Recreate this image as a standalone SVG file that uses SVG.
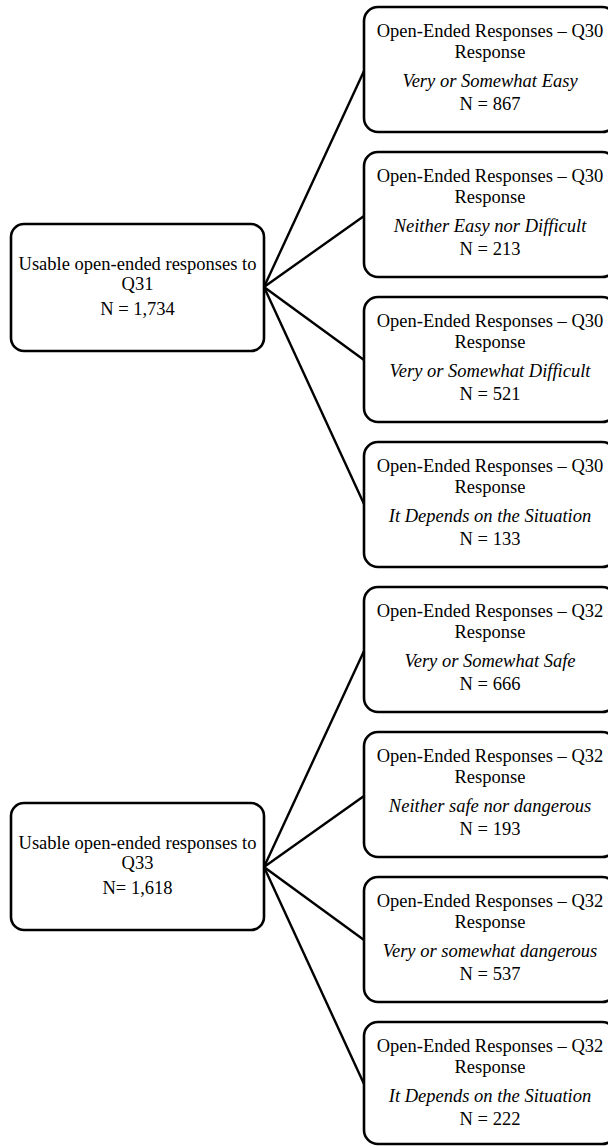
<svg xmlns="http://www.w3.org/2000/svg" width="608" height="1146" viewBox="0 0 608 1146">
  <style>
    .box { fill: #ffffff; stroke: #000000; stroke-width: 2.6; }
    .link { stroke: #000000; stroke-width: 2.4; fill: none; }
    text { font-family: "Liberation Serif", "Times New Roman", serif; font-size: 18.5px; fill: #000000; text-anchor: middle; }
    .it { font-style: italic; }
  </style>
  <rect width="608" height="1146" fill="#ffffff"/>

  <!-- connectors: each source fans out to its four outcome boxes -->
  <g id="connectors">
    <line class="link" x1="264" y1="287" x2="364" y2="71"/>
    <line class="link" x1="264" y1="287" x2="364" y2="216"/>
    <line class="link" x1="264" y1="287" x2="364" y2="360"/>
    <line class="link" x1="264" y1="287" x2="364" y2="504"/>
    <line class="link" x1="264" y1="867" x2="364" y2="651"/>
    <line class="link" x1="264" y1="867" x2="364" y2="796"/>
    <line class="link" x1="264" y1="867" x2="364" y2="940"/>
    <line class="link" x1="264" y1="867" x2="364" y2="1084"/>
  </g>

  <!-- source boxes -->
  <g id="src-q31">
    <rect class="box" x="11" y="224" width="253" height="127" rx="13"/>
    <text x="137.5" y="270">Usable open-ended responses to</text>
    <text x="137.5" y="290">Q31</text>
    <text x="137.5" y="315">N = 1,734</text>
  </g>
  <g id="src-q33">
    <rect class="box" x="11" y="803" width="253" height="127" rx="13"/>
    <text x="137.5" y="849">Usable open-ended responses to</text>
    <text x="137.5" y="869">Q33</text>
    <text x="137.5" y="894">N= 1,618</text>
  </g>

  <!-- outcome boxes, Q30 -->
  <g id="q30-easy">
    <rect class="box" x="364" y="7" width="252" height="125" rx="14"/>
    <text x="490" y="37">Open-Ended Responses – Q30</text>
    <text x="490" y="58">Response</text>
    <text class="it" x="490" y="87">Very or Somewhat Easy</text>
    <text x="490" y="110">N = 867</text>
  </g>
  <g id="q30-neither">
    <rect class="box" x="364" y="152" width="252" height="125" rx="14"/>
    <text x="490" y="182">Open-Ended Responses – Q30</text>
    <text x="490" y="203">Response</text>
    <text class="it" x="490" y="232">Neither Easy nor Difficult</text>
    <text x="490" y="255">N = 213</text>
  </g>
  <g id="q30-difficult">
    <rect class="box" x="364" y="297" width="252" height="125" rx="14"/>
    <text x="490" y="327">Open-Ended Responses – Q30</text>
    <text x="490" y="348">Response</text>
    <text class="it" x="490" y="377">Very or Somewhat Difficult</text>
    <text x="490" y="400">N = 521</text>
  </g>
  <g id="q30-depends">
    <rect class="box" x="364" y="442" width="252" height="125" rx="14"/>
    <text x="490" y="472">Open-Ended Responses – Q30</text>
    <text x="490" y="493">Response</text>
    <text class="it" x="490" y="522">It Depends on the Situation</text>
    <text x="490" y="545">N = 133</text>
  </g>

  <!-- outcome boxes, Q32 -->
  <g id="q32-safe">
    <rect class="box" x="364" y="587" width="252" height="125" rx="14"/>
    <text x="490" y="617">Open-Ended Responses – Q32</text>
    <text x="490" y="638">Response</text>
    <text class="it" x="490" y="667">Very or Somewhat Safe</text>
    <text x="490" y="690">N = 666</text>
  </g>
  <g id="q32-neither">
    <rect class="box" x="364" y="732" width="252" height="125" rx="14"/>
    <text x="490" y="762">Open-Ended Responses – Q32</text>
    <text x="490" y="783">Response</text>
    <text class="it" x="490" y="812">Neither safe nor dangerous</text>
    <text x="490" y="835">N = 193</text>
  </g>
  <g id="q32-dangerous">
    <rect class="box" x="364" y="877" width="252" height="125" rx="14"/>
    <text x="490" y="907">Open-Ended Responses – Q32</text>
    <text x="490" y="928">Response</text>
    <text class="it" x="490" y="957">Very or somewhat dangerous</text>
    <text x="490" y="980">N = 537</text>
  </g>
  <g id="q32-depends">
    <rect class="box" x="364" y="1022" width="252" height="122" rx="14"/>
    <text x="490" y="1052">Open-Ended Responses – Q32</text>
    <text x="490" y="1073">Response</text>
    <text class="it" x="490" y="1102">It Depends on the Situation</text>
    <text x="490" y="1125">N = 222</text>
  </g>
</svg>
